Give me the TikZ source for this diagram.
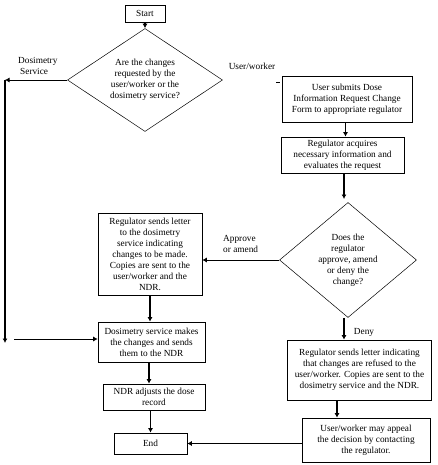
\documentclass[tikz,border=0pt]{standalone}
\usepackage{fontspec}
\setmainfont{Liberation Serif}
\usetikzlibrary{shapes.geometric,arrows.meta}
\begin{document}
\begin{tikzpicture}[x=1pt,y=-1pt,
  every node/.style={font=\fontsize{9.3}{11}\selectfont, inner sep=0pt},
  stepbox/.style={draw, line width=0.6pt, align=center, fill=white},
  decision/.style={draw, line width=0.5pt, shape=diamond, align=center, inner sep=0pt},
  lbl/.style={align=left},
  arrv/.style={line width=1.3pt, -{Latex[length=4.5pt,width=5pt]}},
  arrh/.style={line width=0.7pt, -{Latex[length=4.5pt,width=5pt]}}]
\useasboundingbox (0,0) rectangle (438,465);
\fill[white] (0,0) rectangle (438,465);

\node[stepbox, minimum width=40pt, minimum height=17pt] (start) at (145,13.5) {Start};
\node[decision, minimum width=155pt, minimum height=103pt, aspect=1.5] (d1) at (145,80)
  {Are the changes\\requested by the\\user/worker or the\\dosimetry service?};
\node[stepbox, minimum width=130pt, minimum height=46pt] (b2) at (347,99)
  {User submits Dose\\Information Request Change\\Form to appropriate regulator};
\node[stepbox, minimum width=123pt, minimum height=36pt] (b3) at (342.5,155)
  {Regulator acquires\\necessary information and\\evaluates the request};
\node[decision, minimum width=137pt, minimum height=115pt, aspect=1.2] (d2) at (348,260)
  {Does the\\regulator\\approve, amend\\or deny the\\change?};
\node[stepbox, minimum width=104pt, minimum height=82pt] (b4) at (150,254)
  {Regulator sends letter\\to the dosimetry\\service indicating\\changes to be made.\\Copies are sent to the\\user/worker and the\\NDR.};
\node[stepbox, minimum width=107pt, minimum height=40pt] (b5) at (151.5,342)
  {Dosimetry service makes\\the changes and sends\\them to the NDR};
\node[stepbox, minimum width=102pt, minimum height=26pt] (b6) at (154,397)
  {NDR adjusts the dose\\record};
\node[stepbox, minimum width=73pt, minimum height=21pt] (endb) at (150.5,443.5) {End};
\node[stepbox, minimum width=144pt, minimum height=60pt] (b7) at (359.5,370)
  {Regulator sends letter indicating\\that changes are refused to the\\user/worker. Copies are sent to the\\dosimetry service and the NDR.};
\node[stepbox, minimum width=128pt, minimum height=44pt] (b8) at (366,440)
  {User/worker may appeal\\the decision by contacting\\the regulator.};

\node[lbl, anchor=west] (ldos) at (18,66) {Dosimetry\\\hspace*{2pt}Service};
\node[lbl] (luw) at (252,66) {User/worker};
\node[lbl, anchor=west] (lapp) at (223,244) {Approve\\or amend};
\node[lbl] (ldeny) at (364,332) {Deny};

\coordinate (lc) at (5,80);
\coordinate (ld) at (5,343);
\coordinate (le) at (14,339);
\coordinate (uw1) at (276,82);
\coordinate (uw2) at (280,82);

\draw[arrv] (start.south) -- (d1.north);
\draw[arrh] (d1.west) -- (lc);
\draw[arrv] (lc) -- (ld);
\draw[arrh] (le) -- (le -| b5.west);
\draw[line width=0.8pt] (uw1) -- (uw2);
\draw[arrv] ([xshift=-1.5pt]b2.south) -- ([xshift=-1.5pt]b2.south |- b3.north);
\draw[arrv] ([xshift=1.5pt]b3.south) -- ([xshift=1.5pt]b3.south |- 0,199);
\draw[arrh] (d2.west) -- (d2.west -| b4.east);
\draw[arrv] (b4.south) -- (b4.south |- b5.north);
\draw[arrv] ([xshift=-2.5pt]b5.south) -- ([xshift=-2.5pt]b5.south |- b6.north);
\draw[arrv] ([xshift=-3.5pt]b6.south) -- ([xshift=-3.5pt]b6.south |- endb.north);
\draw[arrv] ([xshift=-4pt]d2.south) -- ([xshift=-4pt]d2.south |- b7.north);
\draw[arrv] ([xshift=-22.5pt]b7.south) -- ([xshift=-22.5pt]b7.south |- b8.north);
\draw[arrh] (b8.west |- endb.east) -- (endb.east);
\end{tikzpicture}
\end{document}
